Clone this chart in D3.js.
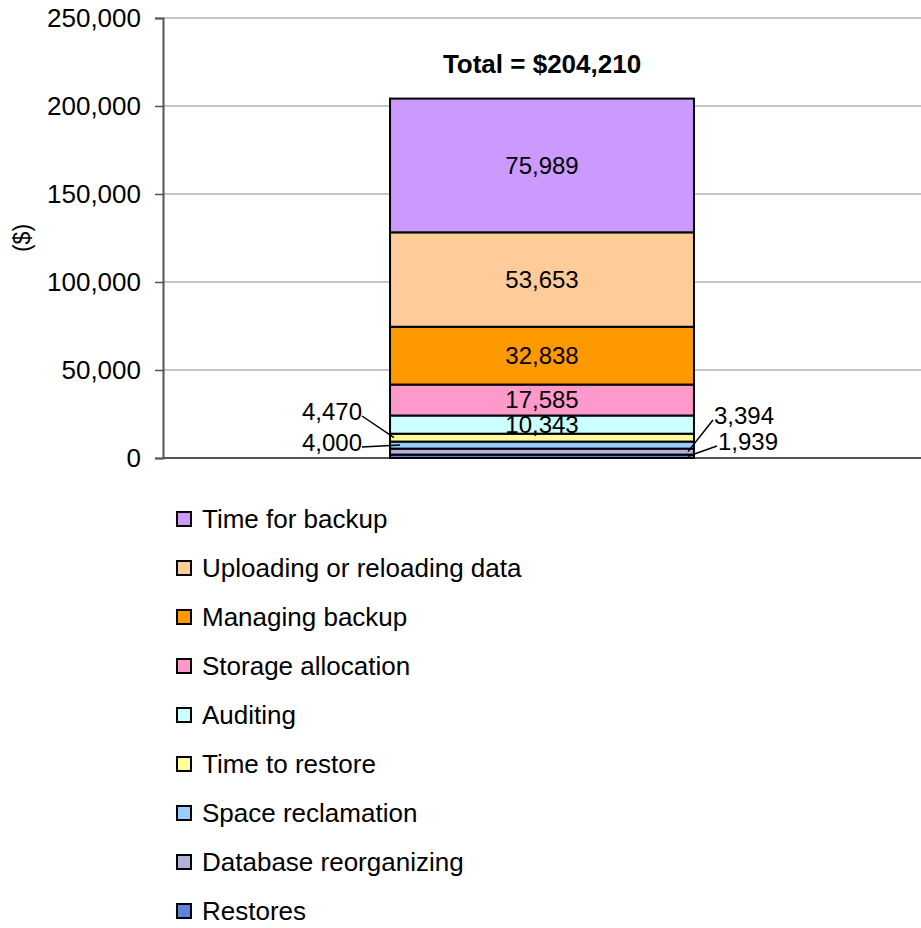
<!DOCTYPE html>
<html>
<head>
<meta charset="utf-8">
<script src="https://cdn.jsdelivr.net/npm/d3@7"></script>
<style>
  body { margin: 0; background: #fff; }
  text { font-family: "Liberation Sans", Arial, sans-serif; }
</style>
</head>
<body>
<svg id="chart"></svg>
<script>
// stacked from bottom to top
const categories = [
  "Restores",
  "Database reorganizing",
  "Space reclamation",
  "Time to restore",
  "Auditing",
  "Storage allocation",
  "Managing backup",
  "Uploading or reloading data",
  "Time for backup",
];
const values = [1939, 3394, 4000, 4470, 10343, 17585, 32838, 53653, 75989];
const colors = [
  "#5f82dc", "#b3b3d9", "#99ccff", "#ffff99", "#ccffff",
  "#ff99cc", "#ff9900", "#ffcc99", "#cc99ff",
];
const yTicks = [0, 50000, 100000, 150000, 200000, 250000];
const totalLabel = "Total = $204,210";

const width = 921, height = 928;
const margin = { top: 18, right: 0, bottom: 470, left: 163 };
const fmt = d3.format(",");

const svg = d3.select("#chart").attr("width", width).attr("height", height);

const y = d3.scaleLinear().domain([0, 250000]).range([height - margin.bottom, margin.top]);
const x = d3.scaleBand().domain(["cost"]).range([margin.left, width - margin.right])
  .paddingInner(0).paddingOuter(0.747);

// gridlines
svg.append("g")
  .selectAll("line")
  .data(yTicks.filter(d => d > 0))
  .join("line")
  .attr("x1", margin.left).attr("x2", width)
  .attr("y1", d => y(d)).attr("y2", d => y(d))
  .attr("stroke", "#8c8c8c").attr("stroke-width", 1);

// y axis
const yAxis = svg.append("g")
  .attr("transform", "translate(" + margin.left + ",0)")
  .call(d3.axisLeft(y).tickValues(yTicks).tickFormat(fmt).tickSize(8).tickPadding(14));
yAxis.select(".domain").attr("stroke", "#555").attr("stroke-width", 2);
yAxis.selectAll(".tick line").attr("stroke", "#555").attr("stroke-width", 1.5);
yAxis.selectAll(".tick text").attr("font-size", 26).attr("fill", "#000")
  .attr("font-family", "'Liberation Sans', Arial, sans-serif");

// x axis baseline
svg.append("line")
  .attr("x1", margin.left).attr("x2", width)
  .attr("y1", y(0)).attr("y2", y(0))
  .attr("stroke", "#555").attr("stroke-width", 2);

// y axis title
svg.append("text")
  .attr("transform", "translate(22," + 238 + ") rotate(-90)")
  .attr("text-anchor", "middle")
  .attr("dy", "0.35em")
  .attr("font-size", 23)
  .text("($)");

// stack
const stacked = [];
let acc = 0;
values.forEach((v, i) => {
  stacked.push({ name: categories[i], value: v, y0: acc, y1: acc + v, color: colors[i] });
  acc += v;
});

const bx = x("cost"), bw = x.bandwidth();

svg.append("g")
  .selectAll("rect")
  .data(stacked)
  .join("rect")
  .attr("x", bx)
  .attr("y", d => y(d.y1))
  .attr("width", bw)
  .attr("height", d => y(d.y0) - y(d.y1))
  .attr("fill", d => d.color)
  .attr("stroke", "#000")
  .attr("stroke-width", 2);

// labels inside the big segments
svg.append("g")
  .selectAll("text")
  .data(stacked.filter(d => d.value > 10000))
  .join("text")
  .attr("x", bx + bw / 2)
  .attr("y", d => y((d.y0 + d.y1) / 2))
  .attr("dy", "0.35em")
  .attr("text-anchor", "middle")
  .attr("font-size", 24)
  .text(d => fmt(d.value));

// leader labels for the thin segments
const leaders = {
  "Time to restore": { side: "left", tx: 362, ty: 412, lx: 394 },
  "Space reclamation": { side: "left", tx: 362, ty: 443, lx: 400 },
  "Database reorganizing": { side: "right", tx: 712, ty: 416, lx: 688 },
  "Restores": { side: "right", tx: 716, ty: 442, lx: 688 },
};
const small = stacked.filter(d => leaders[d.name]);
const lg = svg.append("g");
small.forEach(d => {
  const p = leaders[d.name];
  const yc = y((d.y0 + d.y1) / 2);
  lg.append("line")
    .attr("x1", p.side === "left" ? p.tx : p.tx + 1)
    .attr("y1", p.ty + 4)
    .attr("x2", p.lx).attr("y2", yc)
    .attr("stroke", "#000").attr("stroke-width", 1.5);
  lg.append("text")
    .attr("x", p.side === "left" ? p.tx : p.tx + 2)
    .attr("y", p.ty)
    .attr("dy", "0.35em")
    .attr("text-anchor", p.side === "left" ? "end" : "start")
    .attr("font-size", 24)
    .text(fmt(d.value));
});

// total
svg.append("text")
  .attr("x", bx + bw / 2)
  .attr("y", y(acc) - 35)
  .attr("dy", "0.35em")
  .attr("text-anchor", "middle")
  .attr("font-size", 26)
  .attr("font-weight", "bold")
  .text(totalLabel);

// legend, top to bottom
const legendData = stacked.slice().reverse();
const ly = d3.scalePoint().domain(legendData.map(d => d.name)).range([519, 911]);
const leg = svg.append("g")
  .selectAll("g")
  .data(legendData)
  .join("g")
  .attr("transform", d => "translate(176," + ly(d.name) + ")");
leg.append("rect")
  .attr("x", 1).attr("y", -7)
  .attr("width", 14).attr("height", 14)
  .attr("fill", d => d.color)
  .attr("stroke", "#000").attr("stroke-width", 2);
leg.append("text")
  .attr("x", 26).attr("y", 0)
  .attr("dy", "0.35em")
  .attr("font-size", 26)
  .text(d => d.name);
</script>
</body>
</html>
